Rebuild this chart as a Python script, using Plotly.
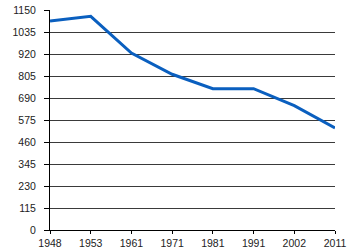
import plotly.graph_objects as go

years = ["1948", "1953", "1961", "1971", "1981", "1991", "2002", "2011"]
population = [1092, 1117, 925, 814, 739, 739, 650, 533]
y_ticks = [0, 115, 230, 345, 460, 575, 690, 805, 920, 1035, 1150]

fig = go.Figure()
fig.add_trace(go.Scatter(
    x=years, y=population, mode="lines",
    line=dict(color="#0a5fbf", width=3),
))
fig.update_layout(
    width=350, height=250,
    margin=dict(l=50, r=15, t=10, b=20),
    paper_bgcolor="white", plot_bgcolor="white",
    showlegend=False,
    font=dict(family="Liberation Sans, Arial, sans-serif", size=10.5, color="#222"),
)
fig.update_xaxes(
    type="category", range=[0, 7], automargin=False,
    showgrid=False, showline=True, linecolor="black", linewidth=1,
    ticks="outside", ticklen=3, tickcolor="black",
)
fig.update_yaxes(
    range=[0, 1150], tickvals=y_ticks, automargin=False,
    showgrid=True, gridcolor="#3a3a3a", gridwidth=1,
    showline=True, linecolor="black", linewidth=1,
    ticks="outside", ticklen=5, tickcolor="black",
    ticklabelstandoff=6,
    zeroline=False,
)
fig.write_html("out.html")
